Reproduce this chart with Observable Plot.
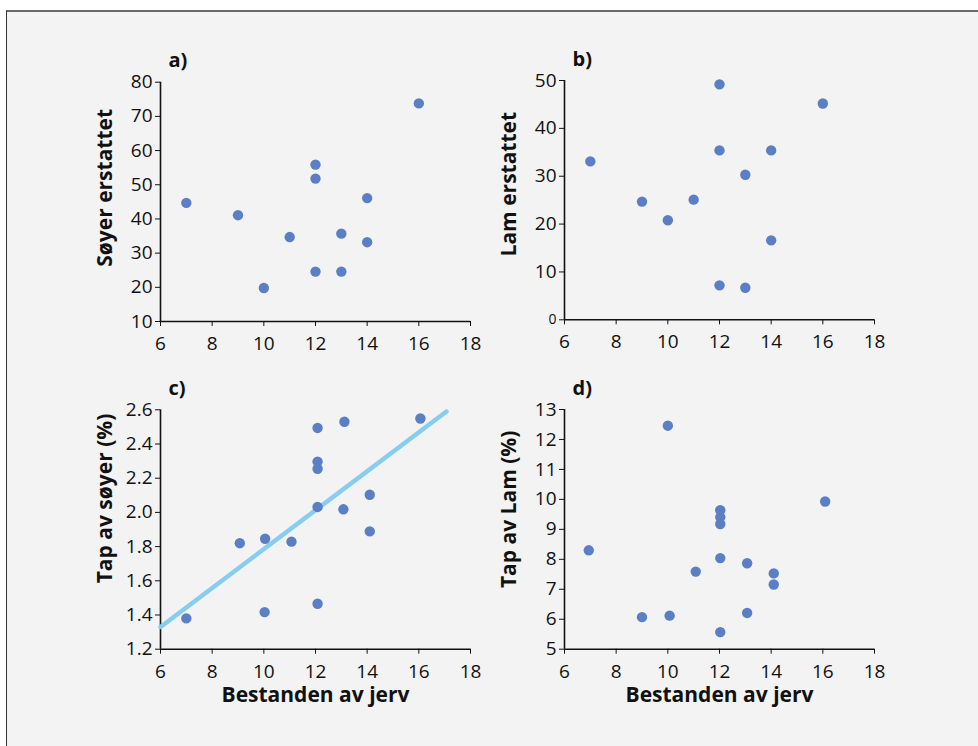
<!DOCTYPE html>
<html>
<head>
<meta charset="utf-8">
<script src="https://cdn.jsdelivr.net/npm/d3@7"></script>
<script src="https://cdn.jsdelivr.net/npm/@observablehq/plot@0.6"></script>
<style>
  html, body { margin: 0; padding: 0; background: #ffffff; }
  #page { position: relative; width: 978px; height: 746px; overflow: hidden; background: #ffffff; }
  #frame { position: absolute; left: 6px; top: 10px; width: 990px; height: 760px;
           background: #f3f3f3; border-left: 1.5px solid #333; border-top: 2px solid #6a6a6a; }
  .panel { position: absolute; }
</style>
</head>
<body>
<div id="page"><div id="frame"></div></div>
<script>
// ---- data ----
const xTicks = [6, 8, 10, 12, 14, 16, 18];
const xLabel = "Bestanden av jerv";

const aLabel = "a)";
const aTitle = "Søyer erstattet";
const aTicks = [10, 20, 30, 40, 50, 60, 70, 80];
const aX = [7, 9, 10, 11, 12, 12, 12, 13, 13, 14, 14, 16];
const aY = [44.7, 41.1, 19.8, 34.7, 55.9, 51.8, 24.6, 35.7, 24.6, 46.1, 33.2, 73.8];

const bLabel = "b)";
const bTitle = "Lam erstattet";
const bTicks = [0, 10, 20, 30, 40, 50];
const bX = [7, 9, 10, 11, 12, 12, 12, 13, 13, 14, 14, 16];
const bY = [33.1, 24.7, 20.8, 25.1, 49.2, 35.4, 7.2, 30.3, 6.7, 35.4, 16.6, 45.2];

const cLabel = "c)";
const cTitle = "Tap av søyer (%)";
const cTicks = [1.2, 1.4, 1.6, 1.8, 2.0, 2.2, 2.4, 2.6];
const cX = [7, 9.07, 10.05, 10.03, 11.07, 12.08, 12.08, 12.08, 12.08, 12.08, 13.12, 13.08, 14.1, 14.1, 16.06];
const cY = [1.38, 1.82, 1.846, 1.417, 1.829, 2.494, 2.297, 2.255, 2.032, 1.466, 2.53, 2.018, 2.103, 1.889, 2.549];
const fitX = [6, 17.07];
const fitY = [1.33, 2.59];

const dLabel = "d)";
const dTitle = "Tap av Lam (%)";
const dTicks = [5, 6, 7, 8, 9, 10, 11, 12, 13];
const dX = [6.94, 9, 10, 10.07, 11.08, 12.03, 12.03, 12.03, 12.03, 12.03, 13.07, 13.07, 14.1, 14.1, 16.09];
const dY = [8.30, 6.07, 12.46, 6.12, 7.59, 9.64, 9.41, 9.18, 8.04, 5.57, 7.87, 6.21, 7.53, 7.16, 9.93];

// ---- style ----
const FONT = "'Open Sans', 'Noto Sans', sans-serif";
const DOT = "#5b7fc4";
const FIT = "#86cdf0";

function panel({left, top, width, height, mLeft, mRight, mTop, mBottom,
                xs, ys, yTicks, yFmt, label, title, titleDy, showXTitle, fit, smallZero}) {
  const pts = xs.map((x, i) => ({x, y: ys[i]}));
  const yDomain = [yTicks[0], yTicks[yTicks.length - 1]];
  const marks = [
    Plot.ruleX([xTicks[0]], {stroke: "#111", strokeWidth: 1.6}),
    Plot.ruleY([yDomain[0]], {stroke: "#111", strokeWidth: 1.6}),
    Plot.axisX({ticks: xTicks, tickSize: 5, tickPadding: 10, fontSize: 19, stroke: "#111", fill: "#111", label: null}),
    Plot.axisY({ticks: yTicks, tickSize: 5, tickPadding: 3, fontSize: 19, stroke: "#111", fill: "#111", label: null,
                tickFormat: d => (smallZero && d === 0) ? "" : yFmt(d)}),
  ];
  if (smallZero) {
    marks.push(Plot.text(yTicks.filter(d => d === 0), {x: () => xTicks[0], y: d => d, text: d => String(d),
      textAnchor: "end", dx: -8, fontSize: 14, fill: "#111"}));
  }
  if (fit) {
    marks.push(Plot.line(fit.x.map((x, i) => ({x, y: fit.y[i]})), {x: "x", y: "y", stroke: FIT, strokeWidth: 4.5}));
  }
  marks.push(Plot.dot(pts, {x: "x", y: "y", r: 5.2, fill: DOT, stroke: null}));
  marks.push(Plot.text([label], {frameAnchor: "top-left", text: d => d, dx: 8, dy: -29, fontSize: 20,
    fontWeight: "bold", fill: "#111"}));
  marks.push(Plot.text([title], {frameAnchor: "left", textAnchor: "middle", text: d => d, rotate: -90,
    dx: -55, dy: titleDy, fontSize: 21, fontWeight: "bold", fill: "#111"}));
  if (showXTitle) {
    marks.push(Plot.text([xLabel], {frameAnchor: "bottom", text: d => d, dy: 53, fontSize: 21,
      fontWeight: "bold", fill: "#111"}));
  }
  const svg = Plot.plot({
    width, height,
    marginLeft: mLeft, marginRight: mRight, marginTop: mTop, marginBottom: mBottom,
    x: {domain: [xTicks[0], xTicks[xTicks.length - 1]]},
    y: {domain: yDomain},
    style: {background: "transparent", fontFamily: FONT, overflow: "visible", maxWidth: "none"},
    marks
  });
  svg.classList.add("panel");
  svg.style.left = left + "px";
  svg.style.top = top + "px";
  document.getElementById("page").appendChild(svg);
}

const fmtInt = d3.format("d");
const fmt1 = d3.format(".1f");

panel({left: 0, top: 0, width: 489, height: 365, mLeft: 160, mRight: 19, mTop: 81.7, mBottom: 44,
       xs: aX, ys: aY, yTicks: aTicks, yFmt: fmtInt, label: aLabel, title: aTitle, titleDy: -14});
panel({left: 489, top: 0, width: 489, height: 365, mLeft: 75, mRight: 104, mTop: 80, mBottom: 45.7,
       xs: bX, ys: bY, yTicks: bTicks, yFmt: fmtInt, label: bLabel, title: bTitle, titleDy: -16, smallZero: true});
panel({left: 0, top: 365, width: 489, height: 381, mLeft: 160, mRight: 19, mTop: 44.3, mBottom: 97.3,
       xs: cX, ys: cY, yTicks: cTicks, yFmt: fmt1, label: cLabel, title: cTitle, titleDy: -31,
       showXTitle: true, fit: {x: fitX, y: fitY}});
panel({left: 489, top: 365, width: 489, height: 381, mLeft: 75, mRight: 104, mTop: 44, mBottom: 97.3,
       xs: dX, ys: dY, yTicks: dTicks, yFmt: fmtInt, label: dLabel, title: dTitle, titleDy: -20, showXTitle: true});
</script>
</body>
</html>
